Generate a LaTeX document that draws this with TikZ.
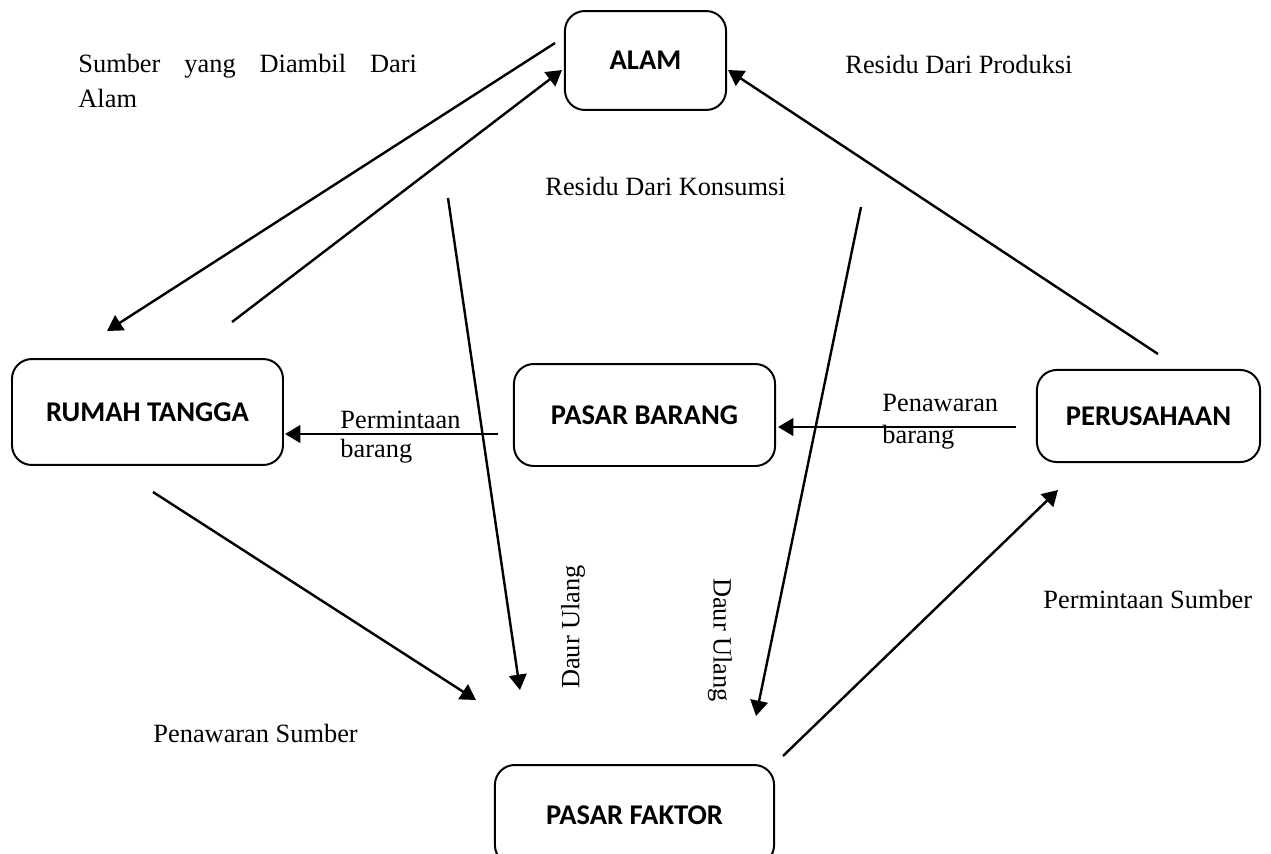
\documentclass[tikz,border=0pt]{standalone}
\usepackage{fontspec}
\setmainfont{Liberation Serif}
\newfontfamily\boxfont{Carlito}
\usetikzlibrary{arrows.meta}

\begin{document}
\begin{tikzpicture}[x=0.455pt,y=-0.455pt]
  % some styles
  \tikzset{
    box/.style={
      rectangle,
      rounded corners=9pt,
      inner sep=0mm,
      line width=0.9pt,
      font=\boxfont\bfseries\fontsize{13}{15}\selectfont,
    draw
    },
    arr/.style={
      line width=1.1pt,
      -{Triangle[length=7pt,width=8pt]}
    },
    lbl/.style={
      inner sep=0mm,
      font=\fontsize{12}{14}\selectfont
    }
  }

\useasboundingbox (0,0) rectangle (1271,853);
\clip (0,0) rectangle (1271,853);

% boxes
\node[box,minimum width=73.3pt,minimum height=45pt] (alam) at (645.5,60.5) {ALAM};
\node[box,minimum width=123.3pt,minimum height=48.2pt] (rumah) at (147.5,412) {RUMAH TANGGA};
\node[box,minimum width=118.8pt,minimum height=46.4pt] (barang) at (644.5,415) {PASAR BARANG};
\node[box,minimum width=101.5pt,minimum height=41.9pt] (usaha) at (1148.5,416) {PERUSAHAAN};
\node[box,minimum width=127pt,minimum height=45.5pt] (faktor) at (634.5,815) {PASAR FAKTOR};

% free ends of the connectors
\coordinate (ambilA) at (555,43);
\coordinate (ambilB) at (107,331);
\coordinate (konsA) at (232,322);
\coordinate (konsB) at (562,70);
\coordinate (prodA) at (1158,354);
\coordinate (prodB) at (728,70);
\coordinate (daurA) at (448,198);
\coordinate (daurB) at (520,690);
\coordinate (daurC) at (861,207);
\coordinate (daurD) at (756,716);
\coordinate (tawarA) at (153,492);
\coordinate (tawarB) at (476,700);
\coordinate (mintaA) at (783,756);
\coordinate (mintaB) at (1058,490);
\coordinate (pbL) at (498,434);
\coordinate (rtR) at (285,434);
\coordinate (prL) at (1016,427);
\coordinate (pbR) at (778,427);

\draw[arr] (ambilA) -- (ambilB);
\draw[arr] (konsA) -- (konsB);
\draw[arr] (prodA) -- (prodB);
\draw[arr] (daurA) -- (daurB);
\draw[arr] (daurC) -- (daurD);
\draw[arr] (tawarA) -- (tawarB);
\draw[arr] (mintaA) -- (mintaB);
\draw[arr] (pbL) -- (rtR);
\draw[arr] (prL) -- (pbR);

% labels
\node[lbl,anchor=north west,text width=154pt,align=justify,font=\fontsize{12}{16}\selectfont] (sumber) at (78,54) {Sumber yang Diambil Dari Alam};
\node[lbl,anchor=base west] (resprod) at (845,73) {Residu Dari Produksi};
\node[lbl,anchor=base west] (reskons) at (545,195) {Residu Dari Konsumsi};
\node[lbl,anchor=north west,align=left,font=\fontsize{12}{12.8}\selectfont] (minbar) at (340,411) {Permintaan\\barang};
\node[lbl,anchor=north west,align=left,font=\fontsize{12}{14.6}\selectfont] (tawbar) at (882,394) {Penawaran\\barang};
\node[lbl,rotate=90] (daurkiri) at (573,627) {Daur Ulang};
\node[lbl,rotate=-90] (daurkanan) at (720,640) {Daur Ulang};
\node[lbl,anchor=base west] (tawsum) at (153,742) {Penawaran Sumber};
\node[lbl,anchor=base west] (minsum) at (1043,608) {Permintaan Sumber};

\end{tikzpicture}
\end{document}
